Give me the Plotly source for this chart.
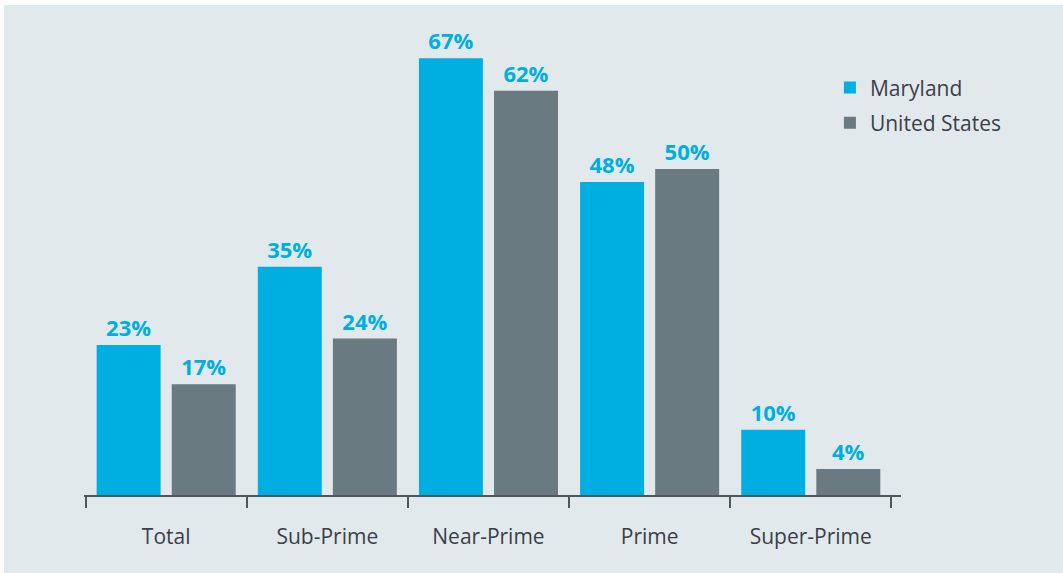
import plotly.graph_objects as go

categories = ["Total", "Sub-Prime", "Near-Prime", "Prime", "Super-Prime"]
maryland = [23, 35, 67, 48, 10]
united_states = [17, 24, 62, 50, 4]

BLUE = "#00afe1"
GREY = "#697a81"
PANEL = "#e1e9ec"
INK = "#3b4047"
FONT = "Open Sans"

W, H = 1063, 573
ML, MR, MT, MB = 84, 162, 40, 78
PW, PH = W - ML - MR, H - MT - MB

fig = go.Figure()
fig.add_trace(go.Bar(
    name="Maryland", x=categories, y=maryland, marker_color=BLUE,
    marker_line_width=0, legendgroup="md",
    texttemplate="%{y}%", textposition="outside", cliponaxis=False,
    textfont=dict(family=FONT, size=22, color=BLUE, weight="bold"),
))
fig.add_trace(go.Bar(
    name="United States", x=categories, y=united_states, marker_color=GREY,
    marker_line_width=0, legendgroup="us",
    texttemplate="%{y}%", textposition="outside", cliponaxis=False,
    textfont=dict(family=FONT, size=22, color=BLUE, weight="bold"),
))

# thin white strips along the top and left edges of the panel
strip = dict(type="rect", xref="paper", yref="paper", fillcolor="white",
             line_width=0, layer="below")
fig.add_shape(**strip, x0=-ML / PW, x1=1 + MR / PW,
              y0=1 + (MT - 5) / PH, y1=1 + MT / PH)
fig.add_shape(**strip, x0=-ML / PW, x1=-(ML - 4) / PW,
              y0=-MB / PH, y1=1 + MT / PH)

fig.update_layout(
    width=W, height=H,
    margin=dict(l=ML, r=MR, t=MT, b=MB, pad=0),
    paper_bgcolor=PANEL, plot_bgcolor=PANEL,
    barmode="group", bargap=0.068, bargroupgap=0.148,
    font=dict(family=FONT, size=21, color=INK),
    showlegend=True,
    legend=dict(x=0.913, y=0.94, xanchor="left", yanchor="top",
                bgcolor="rgba(0,0,0,0)", font=dict(size=21, color=INK),
                traceorder="grouped", tracegroupgap=5),
    uniformtext=dict(mode=False),
)
fig.update_xaxes(
    type="category", range=[-0.51, 4.56],
    showline=True, linecolor="#50565b", linewidth=2,
    ticks="outside", tickson="boundaries", ticklen=11, tickwidth=2,
    tickcolor="#50565b", showgrid=False, zeroline=False,
    tickfont=dict(family=FONT, size=21, color=INK), ticklabelstandoff=22,
)
fig.update_yaxes(visible=False, range=[0, PH / 6.52], showgrid=False,
                 zeroline=False)

fig.write_html("out.html")
